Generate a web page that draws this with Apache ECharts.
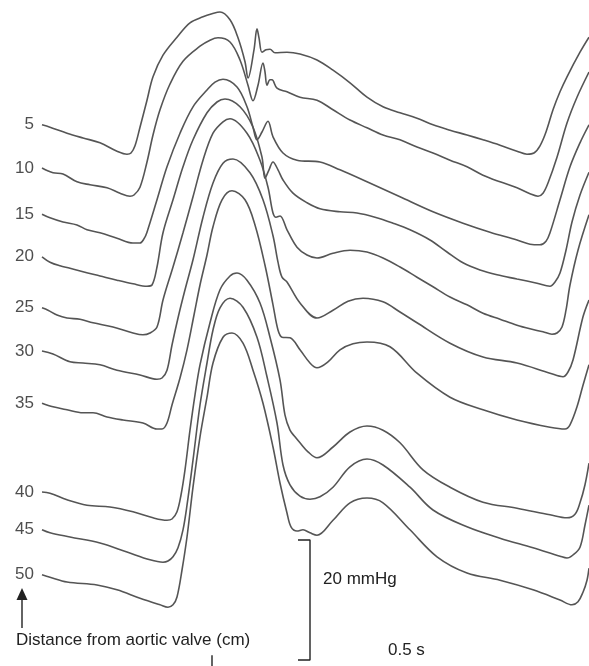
<!DOCTYPE html>
<html>
<head>
<meta charset="utf-8">
<script src="https://cdn.jsdelivr.net/npm/echarts@6/dist/echarts.min.js"></script>
<style>html,body{margin:0;padding:0;background:#fff;}#chart{width:589px;height:666px;}</style>
</head>
<body>
<div id="chart"></div>
<script>
// time in ms (relative to start of record), pressure in mmHg (display offset included)
const distances = [5, 10, 15, 20, 25, 30, 35, 40, 45, 50];

const trace05 = [[0,90.2],[16,89.8],[50,88.8],[82,88.0],[116,87.2],[150,85.8],[170,85.3],[178,85.5],[186,86.7],[196,89.8],[210,94.3],[222,98.2],[242,101.8],[270,104.8],[296,107.2],[322,108.2],[340,108.7],[356,109.0],[376,107.7],[392,104.7],[406,100.7],[412,98.0],[424,102.7],[430,106.2],[434,104.7],[440,102.3],[448,102.7],[456,102.8],[466,102.2],[490,102.3],[516,102.0],[550,101.0],[582,99.3],[616,97.2],[650,94.8],[682,93.2],[716,92.2],[750,91.3],[782,90.2],[816,89.3],[850,88.5],[882,87.7],[916,86.8],[950,85.8],[970,85.3],[984,85.5],[996,86.7],[1008,89.0],[1022,92.7],[1036,95.7],[1050,98.2],[1076,102.3],[1094,104.8]];

const trace10 = [[0,83.0],[22,82.2],[42,82.0],[70,80.7],[96,80.2],[130,79.7],[156,78.8],[176,78.3],[184,78.5],[196,79.8],[210,84.0],[222,88.5],[236,92.7],[256,97.0],[282,100.8],[316,103.3],[336,104.3],[352,104.7],[376,104.0],[396,101.0],[412,96.8],[422,94.2],[432,96.8],[442,100.5],[446,99.0],[450,96.8],[456,97.7],[460,97.7],[470,96.3],[490,95.7],[516,94.8],[550,94.3],[582,92.7],[616,91.0],[650,89.7],[682,88.5],[716,87.7],[750,86.5],[782,85.5],[816,84.3],[850,83.2],[882,81.8],[916,80.7],[950,79.7],[976,78.7],[992,78.3],[1002,78.8],[1012,80.5],[1030,84.8],[1050,90.5],[1070,94.8],[1094,99.0]];

const trace15 = [[0,75.3],[16,74.7],[42,74.0],[70,73.5],[90,72.7],[116,72.2],[150,71.3],[182,70.5],[196,70.5],[204,71.2],[210,72.3],[230,77.7],[250,83.2],[276,88.8],[302,93.2],[330,96.0],[346,97.3],[362,97.8],[390,96.5],[410,93.2],[422,89.8],[430,87.7],[440,89.0],[452,90.8],[462,88.2],[482,85.5],[510,84.3],[556,84.0],[596,82.7],[650,80.7],[716,78.2],[782,75.7],[842,73.8],[896,72.3],[950,71.0],[976,70.3],[996,70.2],[1008,70.8],[1016,72.2],[1036,77.7],[1056,83.2],[1076,87.2],[1094,90.2]];

const trace20 = [[0,68.2],[16,67.3],[36,66.7],[56,66.3],[82,65.7],[116,65.0],[150,64.3],[182,63.7],[210,63.3],[220,63.5],[230,66.5],[242,72.2],[262,77.7],[282,83.2],[302,87.7],[330,92.2],[350,94.0],[366,94.5],[396,93.2],[422,89.8],[440,84.8],[446,81.3],[454,82.7],[462,84.0],[472,82.7],[482,81.0],[502,78.8],[530,77.2],[556,76.2],[596,75.7],[630,75.5],[666,74.8],[702,73.8],[736,72.7],[776,71.0],[810,69.0],[842,67.2],[876,66.0],[910,65.2],[950,64.5],[990,63.8],[1016,63.3],[1026,64.0],[1036,65.5],[1048,69.3],[1060,74.0],[1076,78.5],[1094,82.3]];

const trace25 = [[0,59.7],[12,59.3],[30,58.5],[50,58.0],[76,57.8],[102,57.2],[142,56.5],[182,55.5],[202,55.2],[216,55.5],[230,56.5],[242,61.0],[262,66.5],[282,72.2],[302,78.2],[322,84.3],[342,88.8],[362,90.7],[376,91.2],[410,88.8],[436,84.3],[452,79.8],[462,75.5],[468,74.8],[476,75.0],[490,72.7],[510,69.8],[530,68.5],[550,68.0],[582,68.8],[616,69.3],[650,69.0],[682,68.0],[716,66.5],[750,64.8],[782,63.2],[816,61.5],[850,60.2],[882,58.8],[916,57.8],[950,56.8],[976,56.2],[1002,55.7],[1020,55.3],[1030,55.5],[1040,56.5],[1048,59.3],[1056,63.5],[1072,69.3],[1094,75.2]];

const trace30 = [[0,52.5],[22,52.0],[56,50.7],[82,50.5],[116,50.2],[150,49.3],[196,48.5],[230,47.8],[240,48.0],[250,49.3],[260,53.5],[272,58.0],[286,62.7],[302,67.7],[322,74.8],[342,80.5],[362,83.8],[382,84.5],[416,82.2],[442,77.7],[462,71.7],[472,67.3],[480,64.8],[490,64.0],[516,60.5],[550,58.0],[582,59.3],[612,60.8],[642,61.3],[682,60.7],[716,59.0],[750,57.2],[816,53.8],[882,51.5],[950,50.5],[1016,48.8],[1042,48.2],[1052,49.0],[1062,51.0],[1082,58.2],[1094,61.0]];

const trace35 = [[0,43.8],[22,43.2],[50,42.7],[82,42.2],[102,42.2],[130,41.5],[162,41.0],[202,40.5],[230,39.5],[240,39.5],[250,40.5],[260,43.5],[276,48.0],[290,52.7],[304,58.5],[316,63.5],[330,68.5],[342,73.2],[360,77.7],[380,79.2],[406,77.7],[426,73.5],[446,66.8],[462,60.2],[472,56.0],[480,54.8],[496,54.7],[516,52.7],[536,50.5],[550,49.7],[572,50.7],[596,52.7],[622,53.7],[650,54.0],[696,53.2],[750,48.8],[816,44.8],[882,42.7],[950,41.0],[1016,39.8],[1046,39.5],[1056,40.2],[1070,43.2],[1082,46.8],[1094,50.2]];

const trace40 = [[0,29.0],[16,28.8],[50,27.7],[90,26.8],[136,26.5],[182,25.7],[222,24.7],[250,24.3],[260,24.5],[270,25.7],[278,28.5],[286,32.7],[296,39.3],[306,45.2],[316,50.2],[336,57.2],[356,62.7],[376,65.0],[390,65.5],[410,64.3],[436,60.5],[456,54.8],[476,47.7],[486,41.8],[496,39.3],[506,38.2],[516,37.2],[532,35.7],[550,34.7],[582,36.5],[616,39.0],[650,40.0],[682,39.3],[716,37.2],[762,32.7],[816,29.8],[882,27.3],[950,26.3],[1016,25.2],[1050,24.7],[1066,25.3],[1076,27.2],[1086,30.2],[1094,33.8]];

const trace45 = [[0,22.7],[16,22.2],[56,21.5],[116,20.5],[170,19.0],[216,17.7],[242,17.3],[252,17.5],[262,18.2],[272,19.7],[282,22.7],[290,26.8],[302,34.3],[316,43.5],[330,50.5],[342,56.0],[356,59.7],[376,61.3],[402,59.8],[430,54.8],[450,48.2],[470,40.5],[482,33.5],[496,30.2],[516,28.3],[536,27.8],[556,28.2],[582,29.8],[616,33.2],[650,34.5],[682,33.5],[736,29.8],[782,26.0],[850,23.2],[916,21.3],[982,19.7],[1036,18.3],[1050,18.0],[1062,18.5],[1076,19.8],[1086,23.5],[1094,26.8]];

const trace50 = [[0,15.2],[16,14.8],[50,14.0],[110,13.5],[150,12.7],[196,11.3],[236,10.2],[252,9.8],[262,10.2],[270,11.5],[280,16.0],[290,21.5],[302,29.8],[316,38.2],[330,44.8],[342,50.5],[362,54.8],[380,55.5],[402,53.8],[422,49.3],[442,43.8],[462,36.5],[476,30.5],[490,25.5],[498,23.2],[510,22.5],[522,22.7],[536,22.2],[550,21.8],[582,24.3],[616,27.2],[650,28.0],[682,27.2],[736,22.7],[790,18.2],[850,15.5],[916,14.3],[982,12.7],[1036,11.0],[1060,10.2],[1072,10.7],[1082,12.3],[1090,14.3],[1094,16.3]];

const traces = [trace05, trace10, trace15, trace20, trace25, trace30, trace35, trace40, trace45, trace50];

// scale bars
const pressureBar = [[512,21],[536,21],[536,1],[512,1]]; // 20 mmHg
const timeTick = [[340,0],[340,1.8]];

const lineColor = '#555555';
const series = traces.map((d, i) => ({
  type: 'line',
  name: distances[i] + ' cm',
  data: d,
  smooth: 0.35,
  symbol: 'none',
  lineStyle: { color: lineColor, width: 1.6 },
  silent: true,
  z: 2
}));

series.push({
  type: 'scatter',
  symbolSize: 0,
  data: traces.map((d, i) => ({ value: d[0], name: String(distances[i]) })),
  label: {
    show: true, position: 'left', distance: 8,
    formatter: p => p.name,
    fontFamily: 'Liberation Sans, Arial, sans-serif', fontSize: 17, color: '#222'
  },
  silent: true
});

series.push({
  type: 'line', data: pressureBar, symbol: 'none',
  lineStyle: { color: '#222', width: 1.4 }, silent: true
});
series.push({
  type: 'line', data: timeTick, symbol: 'none',
  lineStyle: { color: '#222', width: 1.4 }, silent: true
});

const chart = echarts.init(document.getElementById('chart'), null, { renderer: 'canvas' });
chart.setOption({
  animation: false,
  backgroundColor: '#fff',
  grid: { left: 0, right: 0, top: 0, bottom: 0 },
  xAxis: { type: 'value', min: -84, max: 1094, show: false },
  yAxis: { type: 'value', min: 0, max: 111, show: false },
  series: series,
  graphic: [
    { type: 'text', left: 16, top: 632, style: { text: 'Distance from aortic valve (cm)', font: '17px "Liberation Sans", Arial, sans-serif', fill: '#222' } },
    { type: 'line', shape: { x1: 22, y1: 628, x2: 22, y2: 598 }, style: { stroke: '#222', lineWidth: 1.4 } },
    { type: 'polygon', shape: { points: [[22,588],[16.5,600],[27.5,600]] }, style: { fill: '#222' } },
    { type: 'text', left: 323, top: 571, style: { text: '20 mmHg', font: '17px "Liberation Sans", Arial, sans-serif', fill: '#222' } },
    { type: 'text', left: 388, top: 642, style: { text: '0.5 s', font: '17px "Liberation Sans", Arial, sans-serif', fill: '#222' } }
  ]
});
</script>
</body>
</html>
